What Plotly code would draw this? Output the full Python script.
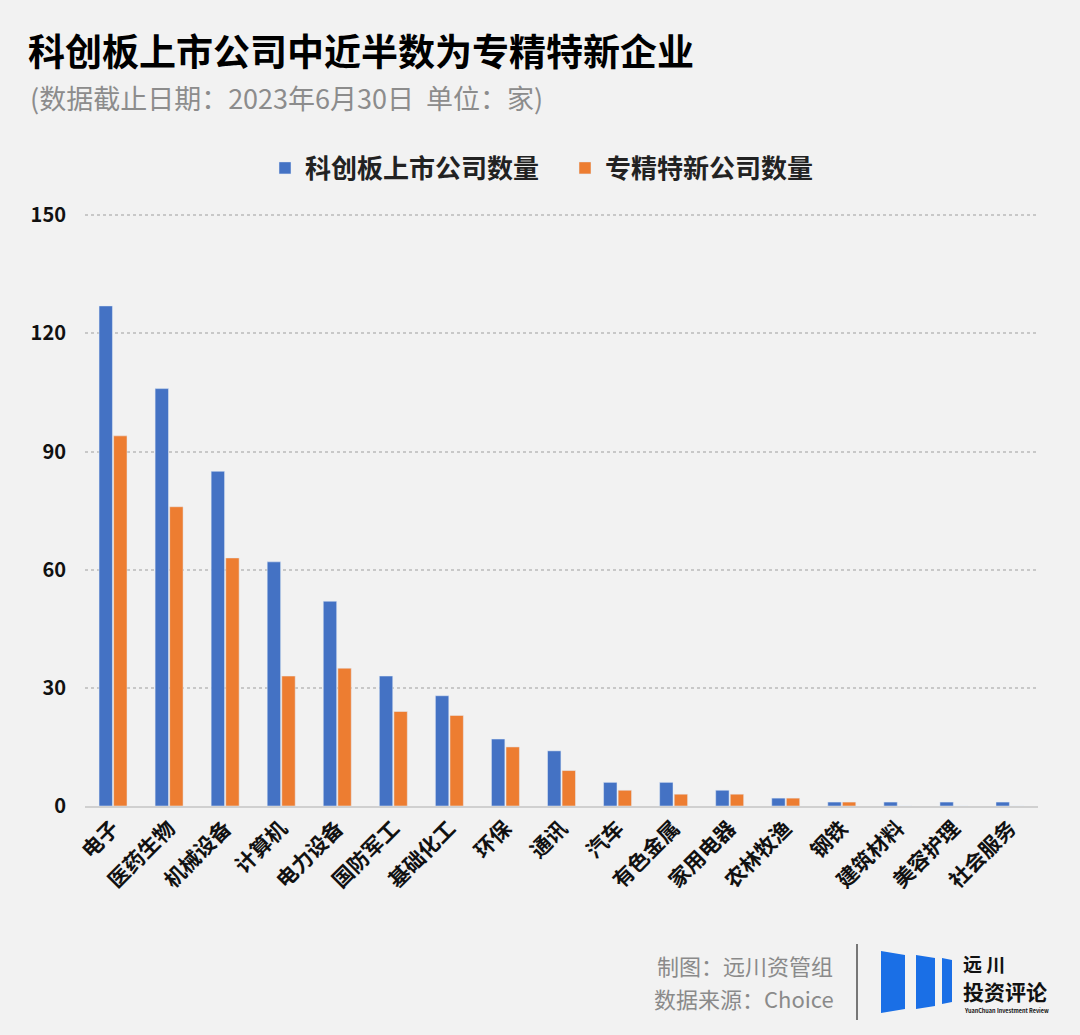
import plotly.graph_objects as go

categories = ["电子", "医药生物", "机械设备", "计算机", "电力设备", "国防军工", "基础化工", "环保",
              "通讯", "汽车", "有色金属", "家用电器", "农林牧渔", "钢铁", "建筑材料", "美容护理", "社会服务"]
listed = [127, 106, 85, 62, 52, 33, 28, 17, 14, 6, 6, 4, 2, 1, 1, 1, 1]
specialized = [94, 76, 63, 33, 35, 24, 23, 15, 9, 4, 3, 3, 2, 1, 0, 0, 0]
y_ticks = [0, 30, 60, 90, 120, 150]

FONT = "Noto Sans CJK SC"
W, H = 1080, 1035
L, R, T, B = 85, 42, 213, 229

fig = go.Figure()
fig.add_trace(go.Bar(x=categories, y=listed, name="科创板上市公司数量", marker_color="#4472C4"))
fig.add_trace(go.Bar(x=categories, y=specialized, name="专精特新公司数量", marker_color="#ED7D31"))

def px(x):
    return (x - L) / (W - L - R)

def py(y):
    return (H - B - y) / (H - B - T)

fig.update_layout(
    width=W, height=H,
    paper_bgcolor="#f2f2f2", plot_bgcolor="#f2f2f2",
    margin=dict(l=L, r=R, t=T, b=B),
    barmode="group", bargap=0.48, bargroupgap=0.08,
    font=dict(family=FONT, color="#000"),
    showlegend=True,
    legend=dict(orientation="h", x=px(565), xanchor="center", y=py(168), yanchor="middle",
                font=dict(size=26, family=FONT, weight="bold", color="#222"),
                itemwidth=30, entrywidth=255, bgcolor="rgba(0,0,0,0)"),
    xaxis=dict(tickangle=-45, tickfont=dict(size=21, family=FONT, weight="bold", color="#111"),
               showline=True, linecolor="#d0d0d0", linewidth=1.5, ticks="", showgrid=False),
    yaxis=dict(range=[0, 150.6], tickvals=y_ticks, showgrid=True, gridcolor="#c8c8c8",
               griddash="dot", gridwidth=1.5, zeroline=False, ticks="",
               tickfont=dict(size=20, family=FONT, weight="bold", color="#111"),
               ticklabelstandoff=18),
)

fig.add_annotation(text="科创板上市公司中近半数为专精特新企业", xref="paper", yref="paper",
                   x=px(26), y=py(50), xanchor="left", yanchor="middle", showarrow=False,
                   font=dict(size=37, family=FONT, weight="bold", color="#000"))
fig.add_annotation(text="(数据截止日期：2023年6月30日  单位：家)", xref="paper", yref="paper",
                   x=px(28), y=py(97), xanchor="left", yanchor="middle", showarrow=False,
                   font=dict(size=27, family=FONT, color="#8c8c8c"))

fig.add_annotation(text="制图：远川资管组", xref="paper", yref="paper", x=px(835), y=py(965),
                   xanchor="right", yanchor="middle", showarrow=False,
                   font=dict(size=22, family=FONT, color="#8a8a8a"))
fig.add_annotation(text="数据来源：Choice", xref="paper", yref="paper", x=px(836), y=py(998),
                   xanchor="right", yanchor="middle", showarrow=False,
                   font=dict(size=22, family=FONT, color="#8a8a8a"))

fig.add_shape(type="line", xref="paper", yref="paper", x0=px(857), x1=px(857), y0=py(944), y1=py(1020),
              line=dict(color="#777", width=2))
logo_blue = "#1a6fe6"
for (xa, xb, ya, yb, skew) in [(881, 905, 951, 1013, 4), (916, 935, 955, 1009, 3), (942, 952, 958, 1004, 2)]:
    path = (f"M {px(xa)} {py(ya)} L {px(xb)} {py(ya + skew)} L {px(xb)} {py(yb - skew)} "
            f"L {px(xa)} {py(yb)} Z")
    fig.add_shape(type="path", xref="paper", yref="paper", path=path,
                  fillcolor=logo_blue, line=dict(width=0))
fig.add_annotation(text="远 川", xref="paper", yref="paper", x=px(961), y=py(963),
                   xanchor="left", yanchor="middle", showarrow=False,
                   font=dict(size=19, family=FONT, weight="bold", color="#111"))
fig.add_annotation(text="投资评论", xref="paper", yref="paper", x=px(961), y=py(991),
                   xanchor="left", yanchor="middle", showarrow=False,
                   font=dict(size=21, family=FONT, weight="bold", color="#111"))
fig.add_annotation(text="YuanChuan Investment Review", xref="paper", yref="paper", x=px(962), y=py(1011),
                   xanchor="left", yanchor="middle", showarrow=False,
                   font=dict(size=5.5, family=FONT, weight="bold", color="#111"))

fig.write_html("out.html", config={"displayModeBar": False},
               post_script="document.body.style.margin='0';document.body.style.background='#f2f2f2';")
